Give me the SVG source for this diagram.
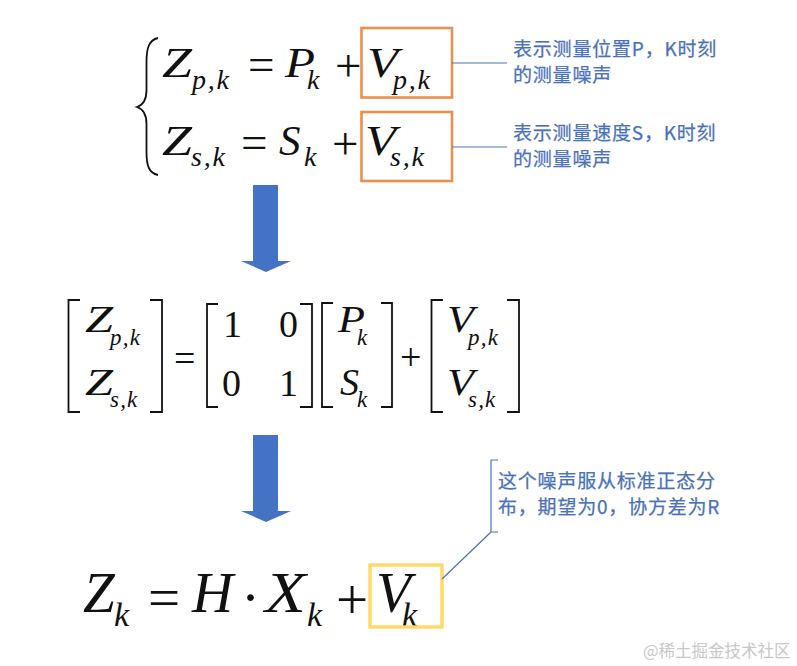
<svg xmlns="http://www.w3.org/2000/svg" width="797" height="666" viewBox="0 0 797 666">
<style>
text{fill:#111}
.m{font-family:"Liberation Serif","Times New Roman",serif}
.i{font-style:italic}
.a{font-size:43px}
.ap{font-size:47px}
.as{font-size:28px;letter-spacing:1.8px}
.b{font-size:38px}
.bs{font-size:23px;letter-spacing:1.2px}
.c{font-size:57px}
.cs{font-size:34px}
.t{font-family:"Noto Sans CJK SC","Noto Sans",sans-serif;font-size:19px;letter-spacing:.8px;fill:#4a72b8;stroke:#4a72b8;stroke-width:.25px}
.w{font-family:"Noto Sans CJK SC","Noto Sans",sans-serif;font-size:16.5px;fill:#c8c8c8}
.o{fill:none;stroke:#e8914f;stroke-width:2.6}
.y{fill:none;stroke:#ffd966;stroke-width:3.4}
.l{fill:none;stroke:#4a72b8;stroke-width:1.2}
.k{fill:none;stroke:#111;stroke-width:1.8}
.ar{fill:#4472c4}
</style>
<g id="equation-system">
<path class="k" d="M158 38C149 40 146.500 48 146.500 62V90C146.500 100 143 105 137 107C143 109 146.500 114 146.500 124V152C146.500 166 149 173 158 175"/>
<text class="m i a" x="162" y="77" textLength="30" lengthAdjust="spacingAndGlyphs">Z</text><text class="m i as" x="192" y="89">p,k</text>
<text class="m ap" x="248" y="80">=</text>
<text class="m i a" x="285" y="77" textLength="30" lengthAdjust="spacingAndGlyphs">P</text><text class="m i as" x="307" y="89">k</text>
<text class="m ap" x="335" y="81">+</text>
<text class="m i a" x="367" y="77" textLength="31" lengthAdjust="spacingAndGlyphs">V</text><text class="m i as" x="393" y="89">p,k</text>
<text class="m i a" x="162" y="155" textLength="30" lengthAdjust="spacingAndGlyphs">Z</text><text class="m i as" x="191" y="166">s,k</text>
<text class="m ap" x="241" y="158">=</text>
<text class="m i a" x="279" y="155">S</text><text class="m i as" x="304" y="166">k</text>
<text class="m ap" x="332" y="159">+</text>
<text class="m i a" x="365" y="155" textLength="31" lengthAdjust="spacingAndGlyphs">V</text><text class="m i as" x="390" y="166">s,k</text>
</g>
<g id="noise-box-p"><rect class="o" x="361.500" y="28" width="90.500" height="69.500"/></g>
<g id="noise-box-s"><rect class="o" x="361.500" y="112" width="90.500" height="69"/></g>
<g id="note-p"><text class="t" x="513" y="56">表示测量位置P，K时刻</text><text class="t" x="513" y="82">的测量噪声</text></g>
<g id="note-s"><text class="t" x="513" y="140">表示测量速度S，K时刻</text><text class="t" x="513" y="166">的测量噪声</text></g>
<g id="matrix-equation">
<path class="k" d="M80 300H68.500V412H80M150 300H162V412H150M218 304H207V407H218M300 304H312V407H300M333 303H322V407H333M381 303H392V407H381M443 300H431.500V412H443M507 300H519V412H507"/>
<text class="m i b" x="85" y="332" textLength="28" lengthAdjust="spacingAndGlyphs">Z</text><text class="m i bs" x="110" y="345">p,k</text>
<text class="m i b" x="85" y="395" textLength="28" lengthAdjust="spacingAndGlyphs">Z</text><text class="m i bs" x="110" y="407">s,k</text>
<text class="m b" x="174" y="371">=</text>
<text class="m b" x="223" y="337">1</text><text class="m b" x="279" y="337">0</text>
<text class="m b" x="222" y="396">0</text><text class="m b" x="279" y="396">1</text>
<text class="m i b" x="338" y="332" textLength="27" lengthAdjust="spacingAndGlyphs">P</text><text class="m i bs" x="357" y="345">k</text>
<text class="m i b" x="340" y="395">S</text><text class="m i bs" x="357" y="407">k</text>
<text class="m b" x="400" y="370">+</text>
<text class="m i b" x="447" y="332" textLength="27" lengthAdjust="spacingAndGlyphs">V</text><text class="m i bs" x="468" y="345">p,k</text>
<text class="m i b" x="447" y="395" textLength="27" lengthAdjust="spacingAndGlyphs">V</text><text class="m i bs" x="468" y="407">s,k</text>
</g>
<g id="final-equation">
<text class="m i c" x="83" y="612">Z</text><text class="m i cs" x="114" y="626">k</text>
<text class="m c" x="148" y="617">=</text>
<text class="m i c" x="192" y="612">H</text>
<text class="m c" x="241" y="617">·</text>
<text class="m i c" x="265" y="612" textLength="41" lengthAdjust="spacingAndGlyphs">X</text><text class="m i cs" x="307" y="626">k</text>
<text class="m c" x="336" y="619">+</text>
<text class="m i c" x="376" y="612">V</text><text class="m i cs" x="402" y="626">k</text>
</g>
<g id="noise-box-final"><rect class="y" x="370" y="565" width="72" height="62"/></g>
<g id="note-final"><text class="t" x="498" y="488">这个噪声服从标准正态分</text><text class="t" x="498" y="514">布，期望为0，协方差为R</text></g>
<g id="connectors">
<path class="l" d="M452 63H507M452 147H507M498 460H491V532H498M491 532L442 579"/>
<path class="ar" d="M253 185H278V261H291L266 272L241 261H253Z"/>
<path class="ar" d="M253 435H278V511H291L266 522L241 511H253Z"/>
</g>
<g id="watermark"><text class="w" x="643" y="657">@稀土掘金技术社区</text></g>
</svg>
